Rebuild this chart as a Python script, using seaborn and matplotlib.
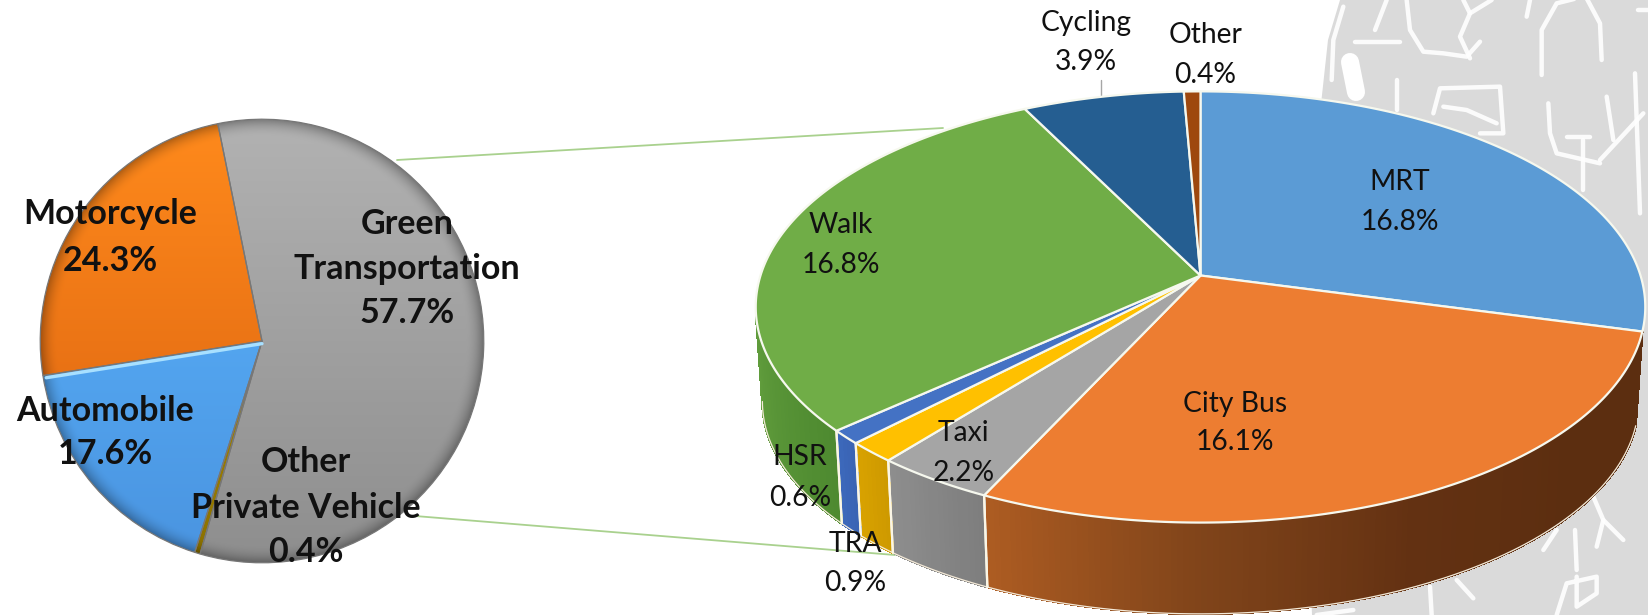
import numpy as np
import matplotlib
matplotlib.use("Agg")
import matplotlib.pyplot as plt
import seaborn as sns

# ---- data ----
left_labels = ["Motorcycle", "Automobile", "Other Private Vehicle", "Green Transportation"]
left_values = [24.3, 17.6, 0.4, 57.7]

right_labels = ["MRT", "City Bus", "Taxi", "TRA", "HSR", "Walk", "Cycling", "Other"]
right_values = [16.8, 16.1, 2.2, 0.9, 0.6, 16.8, 3.9, 0.4]

# ---- style ----
sns.set_theme(style="white")
plt.rcParams["font.family"] = ["Lato", "DejaVu Sans"]
S = 1648 / 1568  # label anchors were read on the shrunk view

left_top = ["#FF8A1C", "#5CB6FF", "#C8A000", "#B2B2B2"]
left_bot = ["#D9600F", "#4A94E0", "#8A7000", "#8E8E8E"]
right_cols = sns.color_palette(["#5B9BD5", "#ED7D31", "#A5A5A5", "#FFC000",
                                "#4472C4", "#70AD47", "#255E91", "#9E480E"])
wall_ramps = [["#5B9BD5", "#5B9BD5"],
              ["#AD5C22", "#80441A", "#633112", "#5C2E10", "#5C2E10"],
              ["#8E8E8E", "#7E7E7E"],
              ["#D9A200", "#CE9A00"],
              ["#3D69BC", "#3A64B4"],
              ["#639F3E", "#4E8A30"],
              ["#255E91", "#255E91"],
              ["#9E480E", "#9E480E"]]

fig = plt.figure(figsize=(16.48, 6.15), dpi=100, facecolor="white")
ax = fig.add_axes([0, 0, 1, 1], zorder=1)

# ---- right pie: angles from the library, perspective projection of the disc ----
wedges_r, _ = ax.pie(right_values, startangle=90, counterclock=False)
thetas = [(w.theta1, w.theta2) for w in wedges_r]
for w in wedges_r:
    w.remove()
ax.set_aspect("auto")
ax.set_xlim(0, 1648)
ax.set_ylim(615, 0)
ax.axis("off")

APEX_X, APEX_Y = 1200.5, 275.5
AX_R, AY_R, K = 440.0, 211.0, 0.146
DEPTH, SHRINK = 95.0, 0.985


def top_xy(deg):
    t = np.radians(deg)
    w = 1 + K * np.sin(t)
    return APEX_X + AX_R * np.cos(t) / w, APEX_Y - AY_R * np.sin(t) / w


def low_xy(deg):
    x, y = top_xy(deg)
    return APEX_X + SHRINK * (x - APEX_X), APEX_Y + SHRINK * (y - APEX_Y) + DEPTH


# watermark background
ax.fill([1340, 1648, 1648, 1312, 1300, 1322, 1328], [0, 0, 615, 615, 300, 95, 40],
        color="#DADADA", lw=0, zorder=0)
z5 = [[(130, 20), (100, 120), (95, 240)], [(165, 125), (300, 125)], [(260, 0), (225, 90)],
      [(320, 0), (330, 90), (370, 155), (430, 160), (500, 170), (540, 125)],
      [(575, 0), (510, 40), (480, 110), (510, 175)], [(490, 0), (510, 40)],
      [(725, 225), (725, 90), (770, 10), (830, -5)], [(860, -5), (900, 70), (905, 180)],
      [(680, 50), (690, 0)], [(290, 240), (290, 330)],
      [(400, 340), (420, 265), (600, 260), (610, 400), (540, 400)],
      [(430, 320), (500, 330), (590, 370)],
      [(745, 310), (750, 400), (770, 460), (900, 490)], [(800, 410), (870, 410)],
      [(850, 420), (850, 570)], [(920, 290), (940, 420)], [(1030, 340), (900, 480)],
      [(1005, 220), (1020, 640)], [(1015, 30), (1044, 30)]]
z4 = [[(880, 350), (910, 420), (890, 500)], [(910, 420), (970, 480)], [(825, 450), (830, 570)],
      [(770, 705), (800, 610), (890, 590), (890, 640), (830, 680), (830, 590)],
      [(730, 510), (770, 450)], [(390, 620), (395, 705)], [(470, 600), (520, 655)],
      [(50, 705), (160, 690)]]
for group, oy in ((z5, 0), (z4, 380)):
    for st in group:
        ax.plot([1300 + p[0] / 3 for p in st], [oy + p[1] / 3 for p in st],
                color="white", lw=3.2, alpha=0.9, solid_capstyle="round",
                solid_joinstyle="round", zorder=0.5)
ax.plot([1350, 1356], [62, 92], color="white", lw=13, solid_capstyle="round", zorder=0.5)

# side wall
VIS_LO = -180 + np.degrees(np.arcsin(K))
VIS_HI = thetas[0][0]
for i, (th1, th2) in enumerate(thetas):
    lo, hi = max(th1, VIS_LO), min(th2, VIS_HI)
    if lo >= hi:
        continue
    n = max(int((hi - lo) * 1.5), 2)
    edges = np.linspace(lo, hi, n + 1)
    shades = sns.blend_palette(wall_ramps[i], n)
    # wall runs left to right on screen as the angle grows
    for j in range(n):
        a, b = edges[j], edges[j + 1]
        xa, ya = top_xy(a)
        xb, yb = top_xy(b)
        xc, yc = low_xy(b)
        xd, yd = low_xy(a)
        ax.fill([xa, xb, xc, xd], [ya, yb, yc, yd], facecolor=shades[j], edgecolor=shades[j],
                lw=1.0, antialiased=False, zorder=2)
    arc = np.linspace(lo, hi, 80)
    lx, ly = low_xy(arc)
    ax.plot(lx, ly, color="#F4EAD8", lw=0.9, zorder=2.2)
    for edge in (lo, hi):
        if VIS_LO < edge < VIS_HI:
            x0, y0 = top_xy(edge)
            x1, y1 = low_xy(edge)
            ax.plot([x0, x1], [y0, y1], color="#FBF6E6", lw=1.6, zorder=2.4)

# top face
for i, (th1, th2) in enumerate(thetas):
    arc = np.linspace(th1, th2, max(int(th2 - th1) * 2, 6))
    x, y = top_xy(arc)
    ax.fill(np.r_[APEX_X, x], np.r_[APEX_Y, y], facecolor=right_cols[i], edgecolor="#F6F8EE",
            lw=1.6, joinstyle="round", zorder=3)

# connector lines
ax.plot([397, 943], [160, 128], color="#A9D18E", lw=1.3, zorder=1)
ax.plot([415, 895], [516, 555], color="#A9D18E", lw=1.3, zorder=1)
ax.plot([1101, 1101], [80, 97], color="#A6A6A6", lw=1.0, zorder=1)

# ---- left pie ----
CX, CY, R = 262.0, 341.0, 224.0
axl = fig.add_axes([(CX - R) / 1648, 1 - (CY + R) / 615, 2 * R / 1648, 2 * R / 615], zorder=0)
wedges_l, _ = axl.pie(left_values, startangle=101.5, counterclock=True, radius=1.0,
                      wedgeprops=dict(facecolor="none", edgecolor="#777777", linewidth=0.9))
axl.set_xlim(-1.01, 1.01)
axl.set_ylim(-1.01, 1.01)
gx, gy = np.meshgrid(np.linspace(-1.01, 1.01, 500), np.linspace(1.01, -1.01, 500))
rr = np.hypot(gx, gy)
rim = np.clip((rr - 0.92) / 0.08, 0, 1) ** 2
for w, c0, c1 in zip(wedges_l, left_top, left_bot):
    top, bot = np.array(matplotlib.colors.to_rgb(c0)), np.array(matplotlib.colors.to_rgb(c1))
    frac = ((gy + 1) / 2)[..., None]
    rgb = (bot + (top - bot) * frac) * (1 - 0.3 * rim[..., None])
    im = axl.imshow(np.clip(rgb, 0, 1), extent=(-1.01, 1.01, -1.01, 1.01), aspect="auto",
                    interpolation="bilinear", zorder=0)
    im.set_clip_path(w)
    w.set_zorder(1)
# light bevel on the upper radius of the Automobile slice
bevel = np.radians(wedges_l[1].theta1)
axl.plot([0.0, 0.985 * np.cos(bevel)], [-0.012, 0.985 * np.sin(bevel) - 0.012],
         color="#A8E0FF", lw=2.4, zorder=2)

# ---- labels ----
bold = dict(fontsize=24.5, fontweight="bold", color="#111111", ha="center", va="center", zorder=6)
reg = dict(fontsize=20.3, color="#111111", ha="center", va="center", zorder=6)


def label(lines, xs, ys, style):
    for t, yy in zip(lines, ys):
        ax.text(xs * S, yy * S, t, **style)


def pct(v):
    return f"{v:.1f}%"


label([left_labels[0], pct(left_values[0])], 105, (204, 248), bold)
label([left_labels[1], pct(left_values[1])], 100, (391, 432), bold)
label(["Green", "Transportation", pct(left_values[3])], 387, (213, 256, 298), bold)
label(["Other", "Private Vehicle", pct(left_values[2])], 291, (440, 483, 525), bold)

anchors = {"MRT": (1332, 173, 211), "City Bus": (1175, 384, 421), "Taxi": (917, 412, 450),
           "TRA": (814, 518, 555), "HSR": (761, 435, 474), "Walk": (800, 214, 252),
           "Cycling": (1033, 22, 59), "Other": (1147, 33, 71)}
for name, val in zip(right_labels, right_values):
    xa, y1, y2 = anchors[name]
    label([name, pct(val)], xa, (y1, y2), reg)

fig.savefig("out.png", dpi=100)
